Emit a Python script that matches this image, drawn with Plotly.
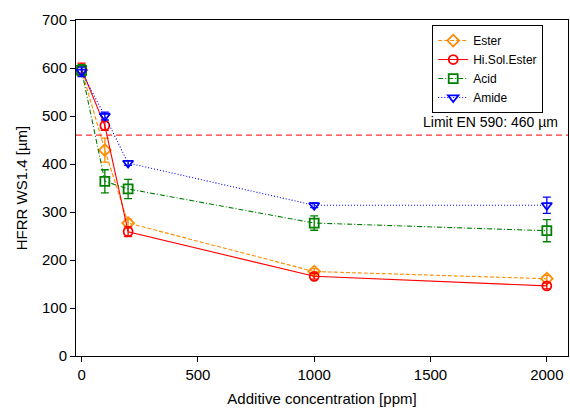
import plotly.graph_objects as go

# Additive concentration [ppm]
concentration = [0, 100, 200, 1000, 2000]

# HFRR wear scar diameter WS1.4 [µm] and error bars
ester = [596, 429, 277, 176, 161]
ester_err = [12, 25, 8, 6, 7]
hisol_ester = [598, 480, 259, 166, 146]
hisol_ester_err = [12, 10, 10, 6, 6]
acid = [595, 364, 348, 277, 261]
acid_err = [12, 24, 20, 15, 23]
amide = [592, 500, 402, 314, 314]
amide_err = [10, 8, 5, 5, 17]

limit_value = 460
limit_label = "Limit EN 590: 460 µm"

series = [
    ("Ester", ester, ester_err, "#FF8C00", "4px,2px", "diamond-open"),
    ("Hi.Sol.Ester", hisol_ester, hisol_ester_err, "#FF0000", "solid", "circle-open"),
    ("Acid", acid, acid_err, "#008000", "5px,2px,1px,2px", "square-open"),
    ("Amide", amide, amide_err, "#0000FF", "1px,2px", "triangle-down-open"),
]

fig = go.Figure()

for name, vals, errs, color, dash, symbol in series:
    fig.add_trace(go.Scatter(
        x=concentration, y=vals, name=name, mode="lines+markers",
        line=dict(color=color, width=1.1, dash=dash),
        marker=dict(symbol=symbol, size=9, color=color, line=dict(width=1.8, color=color)),
        error_y=dict(type="data", array=errs, visible=True, color=color, thickness=1.3, width=4),
    ))

# EN 590 limit line
fig.add_shape(type="line", xref="paper", x0=0, x1=1, yref="y", y0=limit_value, y1=limit_value,
              line=dict(color="#FF3030", width=1.3, dash="6px,4px"))
fig.add_annotation(xref="paper", x=0.983, yref="y", y=limit_value, text=limit_label,
                   showarrow=False, xanchor="right", yanchor="bottom", yshift=3,
                   font=dict(size=14, color="#000000"))

axis_common = dict(
    showline=True, linecolor="#000000", linewidth=1, mirror=True,
    ticks="outside", ticklen=5, tickcolor="#000000", showgrid=False, zeroline=False,
    tickfont=dict(size=15, color="#000000"),
)

fig.update_layout(
    width=570, height=409,
    margin=dict(l=76, r=2, t=20, b=53),
    paper_bgcolor="white", plot_bgcolor="white",
    font=dict(family="Liberation Sans, Arial, sans-serif", color="#000000"),
    xaxis=dict(range=[-24, 2091], tickvals=[0, 500, 1000, 1500, 2000],
               title=dict(text="Additive concentration [ppm]", font=dict(size=15), standoff=11),
               **axis_common),
    yaxis=dict(range=[0, 700], tickvals=[0, 100, 200, 300, 400, 500, 600, 700],
               title=dict(text="HFRR WS1.4 [µm]", font=dict(size=15), standoff=10),
               **axis_common),
    legend=dict(x=0.724, y=0.985, xanchor="left", yanchor="top",
                bordercolor="#000000", borderwidth=1, bgcolor="white",
                font=dict(size=12), tracegroupgap=0, itemwidth=30),
    showlegend=True,
)

fig.write_html("out.html")
